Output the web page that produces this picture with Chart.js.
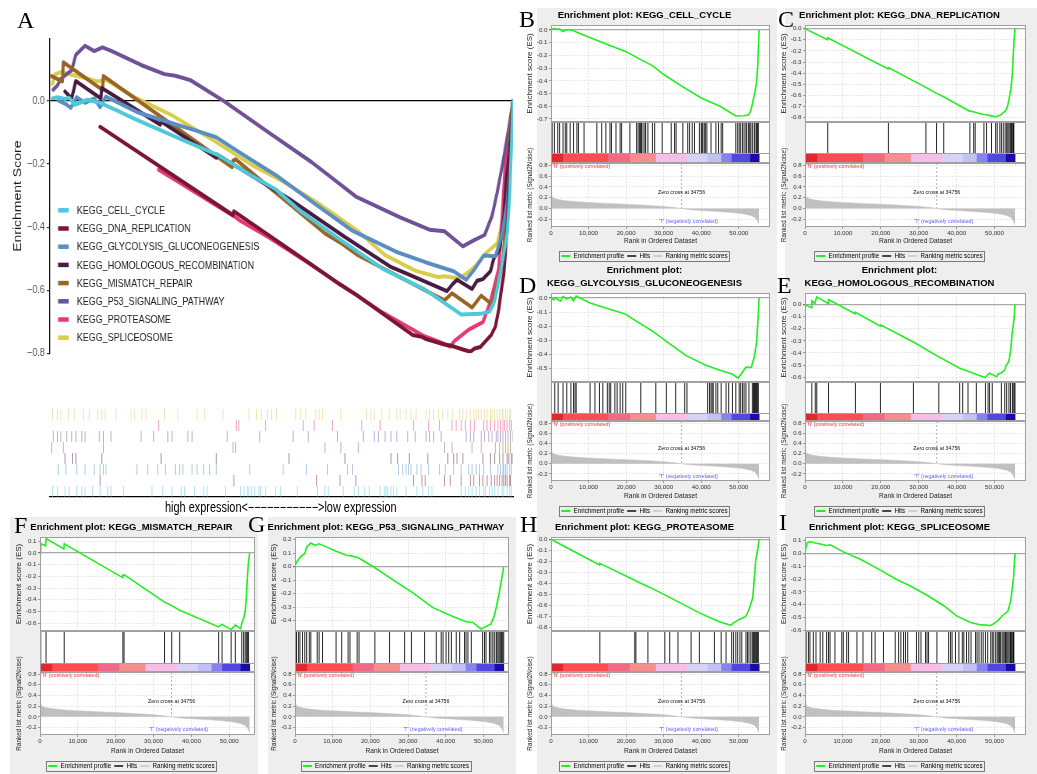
<!DOCTYPE html>
<html>
<head>
<meta charset="utf-8">
<title>GSEA KEGG enrichment</title>
<script src="https://cdn.jsdelivr.net/npm/chart.js"></script>
<style>
  html, body { margin: 0; padding: 0; background: #fff; }
  body { position: relative; width: 1037px; height: 774px; overflow: hidden; font-family: "Liberation Sans", Arial, sans-serif; }
  canvas { position: absolute; }
  .bg { position: absolute; background: #eeeeee; }
  .tag { position: absolute; font: 24px/1 "Liberation Serif", "Times New Roman", serif; color: #000; z-index: 5; }
  .note { position: absolute; font: 14px/1 "Liberation Sans", Arial, sans-serif; white-space: nowrap; transform: scaleX(0.78); transform-origin: 0 50%; color: #000; }
</style>
</head>
<body>
<script>
// ---------------- data ----------------
const N_GENES = 55400;
const ZERO_CROSS = 34756;
const RANK_TICKS = [0, 10000, 20000, 30000, 40000, 50000];

const PATHWAYS = ['KEGG_CELL_CYCLE', 'KEGG_DNA_REPLICATION', 'KEGG_GLYCOLYSIS_GLUCONEOGENESIS',
  'KEGG_HOMOLOGOUS_RECOMBINATION', 'KEGG_MISMATCH_REPAIR', 'KEGG_P53_SIGNALING_PATHWAY',
  'KEGG_PROTEASOME', 'KEGG_SPLICEOSOME'];

// running enrichment score: [rank, ES]
const ES_CELL_CYCLE = [[0,0],[300,0.008],[900,0.012],[1800,0.006],[2300,0.01],[3000,-0.012],[3800,-0.004],[4500,0.004],[6000,-0.006],[8000,-0.03],[10000,-0.055],[13000,-0.09],[16000,-0.125],[20000,-0.17],[24000,-0.235],[27000,-0.28],[30000,-0.35],[35000,-0.445],[40000,-0.535],[45000,-0.6],[49200,-0.677],[51500,-0.675],[52600,-0.668],[53200,-0.635],[53700,-0.57],[54200,-0.5],[54700,-0.42],[55000,-0.3],[55200,-0.15],[55400,0]];
const ES_DNA_REPLICATION = [[0,0],[5900,-0.1],[6000,-0.082],[21900,-0.362],[22000,-0.35],[31100,-0.515],[34600,-0.58],[36700,-0.615],[43400,-0.742],[44500,-0.748],[45000,-0.755],[47200,-0.772],[47900,-0.775],[49300,-0.787],[50300,-0.795],[50800,-0.785],[51500,-0.78],[52000,-0.765],[52800,-0.742],[53300,-0.715],[53700,-0.66],[54000,-0.6],[54300,-0.55],[54700,-0.4],[55000,-0.2],[55200,-0.08],[55400,0]];
const ES_GLYCOLYSIS = [[0,0],[700,-0.012],[1000,0.002],[1900,-0.01],[2500,-0.022],[3200,0.012],[4200,-0.006],[5300,0.008],[6000,-0.02],[6700,0.014],[10400,-0.035],[13100,-0.058],[15000,-0.074],[17600,-0.095],[19900,-0.115],[22800,-0.165],[27300,-0.24],[31700,-0.326],[36100,-0.41],[41400,-0.478],[45000,-0.512],[48300,-0.54],[49800,-0.567],[50700,-0.537],[51900,-0.49],[53300,-0.492],[54100,-0.42],[54700,-0.32],[55000,-0.2],[55200,-0.1],[55400,0]];
const ES_HOMOLOGOUS = [[0,0],[1700,-0.026],[1800,0.03],[2600,0.008],[3100,0.063],[6100,0.008],[6200,0.041],[13200,-0.075],[13300,-0.065],[19900,-0.18],[20000,-0.17],[28600,-0.31],[35200,-0.43],[40700,-0.525],[42900,-0.55],[45100,-0.575],[47500,-0.603],[48200,-0.58],[48700,-0.567],[50500,-0.596],[51100,-0.57],[51800,-0.565],[52700,-0.54],[53100,-0.5],[53800,-0.47],[54300,-0.37],[54600,-0.25],[54900,-0.18],[55200,-0.1],[55400,0]];
const ES_MISMATCH = [[0,0],[200,0.079],[1500,0.062],[1600,0.123],[6300,0.035],[6400,0.079],[21800,-0.21],[21900,-0.19],[22200,-0.185],[32900,-0.42],[34800,-0.45],[36900,-0.49],[47200,-0.632],[48100,-0.61],[50500,-0.655],[51600,-0.617],[53000,-0.648],[53300,-0.6],[53800,-0.56],[54200,-0.5],[54500,-0.39],[54800,-0.2],[55100,-0.067],[55400,0]];
const ES_P53 = [[0,0],[400,0.036],[900,0.049],[1300,0.07],[2000,0.085],[2600,0.097],[3100,0.146],[4200,0.175],[5300,0.158],[6300,0.17],[7400,0.158],[10900,0.114],[13700,0.085],[15000,0.08],[16800,0.066],[20800,0],[26000,-0.097],[31300,-0.194],[36600,-0.303],[41900,-0.369],[45400,-0.408],[47200,-0.413],[49400,-0.461],[50700,-0.442],[52000,-0.425],[52900,-0.364],[53500,-0.291],[54200,-0.194],[54900,-0.085],[55400,0]];
const ES_PROTEASOME = [[0,0],[12900,-0.232],[13000,-0.218],[22300,-0.37],[22600,-0.377],[26200,-0.433],[30700,-0.51],[39500,-0.666],[44800,-0.746],[46600,-0.764],[47900,-0.779],[48400,-0.761],[50100,-0.725],[51800,-0.701],[52700,-0.636],[53700,-0.531],[54100,-0.367],[54500,-0.188],[55000,-0.1],[55400,0]];
const ES_SPLICEOSOME = [[0,0],[300,0.054],[600,0.084],[1300,0.091],[4000,0.074],[5700,0.062],[6700,0.067],[10100,0.012],[14500,-0.044],[19900,-0.13],[24300,-0.205],[27800,-0.254],[32300,-0.328],[36700,-0.41],[40100,-0.489],[43700,-0.538],[46400,-0.558],[47200,-0.556],[48900,-0.563],[49900,-0.546],[50800,-0.526],[52100,-0.484],[53500,-0.452],[54300,-0.365],[55000,-0.193],[55400,0]];

// positions of pathway genes in the ranked list
const HITS_CELL_CYCLE = [300,900,1800,2300,3200,3800,4200,5100,6000,6900,7300,8800,12200,13500,14600,15700,16100,17300,18400,18800,21000,22800,23200,23600,23800,24100,24500,25000,25200,25800,27000,27600,29600,32000,32900,33300,35100,36400,36900,37600,38200,39500,40000,40200,40400,40800,41100,41500,42600,43900,44600,45300,45700,49200,49700,50100,50500,51000,51400,51900,52100,52600,52900,53200,53600,54100,54300,54700,55000,55200];
const HITS_DNA_REPLICATION = [6000,22000,31900,34700,36600,43500,44500,44900,47200,47900,49200,50300,50700,51400,51800,52300,52800,53200,53500,53800,54100,54300,54500,54700,55000,55100];
const HITS_GLYCOLYSIS = [1000,1900,3200,4200,5300,6000,6400,6700,10400,11700,12900,13800,15000,15500,15900,17000,17600,18400,19100,19900,23900,27900,30700,33200,35600,36200,41700,42200,42600,42900,43200,43900,44400,45300,46600,47300,48300,49200,50100,50500,51000,51400,51900,52700,53600,53900,54200,54300,54500,54700,55000,55200];
const HITS_HOMOLOGOUS = [1800,2700,3100,6200,13300,19900,28600,35300,40800,41600,43000,45200,47600,48300,48700,49400,51800,52700,53200,53800,54200,54700,54900,55200,55400];
const HITS_MISMATCH = [200,1600,6400,21900,22200,32900,34800,36900,47200,48100,50500,51600,53300,53800,54200,54500,54800,55100];
const HITS_P53 = [400,900,1300,2000,2600,3100,3800,4200,5900,6400,7300,10900,12400,14100,14600,16500,17000,21200,25100,29100,30900,34400,37500,38800,39300,40100,40800,41500,42800,43700,45000,45400,45900,46800,49800,50300,50700,51600,52000,52500,52900,53400,53600,53900,54200,54500,54800,55100,55400];
const HITS_PROTEASOME = [13000,22300,22600,25800,30300,31600,33800,37300,39500,43500,45300,46600,48100,48600,49200,49700,50300,50800,51900,52300,52700,53200,53600,53900,54200,54400,54700,55000,55200];
const HITS_SPLICEOSOME = [300,900,1300,2200,2900,4000,4700,5700,6200,6600,7900,9700,10100,11000,11500,13700,15300,17600,18500,20700,23800,24700,25300,26000,26500,27100,29400,30000,30600,31800,32200,32600,34800,37900,38400,38800,39700,40600,41500,41900,42600,43200,43800,45000,45400,45900,46500,47000,47600,48200,49000,49400,49800,50300,50700,51000,51300,51600,52000,52300,52700,52900,53200,53500,53800,54100,54200,54500,54700,55000,55100];

// ranked list metric (Signal2Noise)
const RANK_X = [0,200,800,2000,4000,7000,10000,15000,20000,25000,30000,33000,34756,37000,40000,44000,48000,51000,53000,54200,54900,55400];
const RANK_Y = [0.26,0.22,0.19,0.165,0.145,0.125,0.112,0.095,0.08,0.062,0.04,0.018,0,-0.02,-0.035,-0.052,-0.072,-0.095,-0.125,-0.16,-0.22,-0.3];

// colour bar breaks along the ranked list
const CB_EDGES = [0,3300,15300,21000,27900,36200,41700,45300,48100,53000,55400];

const ES_BY_PATH = [ES_CELL_CYCLE, ES_DNA_REPLICATION, ES_GLYCOLYSIS, ES_HOMOLOGOUS, ES_MISMATCH, ES_P53, ES_PROTEASOME, ES_SPLICEOSOME];
const HITS_BY_PATH = [HITS_CELL_CYCLE, HITS_DNA_REPLICATION, HITS_GLYCOLYSIS, HITS_HOMOLOGOUS, HITS_MISMATCH, HITS_P53, HITS_PROTEASOME, HITS_SPLICEOSOME];

// ---------------- styles / layout ----------------
const PATH_COLORS = ['#4fc9da', '#7b1631', '#5a8ec3', '#4a1b40', '#9a6426', '#6f5197', '#e53b74', '#d8cd4c'];
const CB_COLORS = ['#e3282d', '#fb4e50', '#ee6b83', '#f98c8c', '#f7bee7', '#d5d3f7', '#c2c0f5', '#8583f1', '#5147e1', '#1b0ba6'];
const ES_GREEN = '#22ee22';
const GRID = '#d6d6d6';
const FRAME = '#a0a0a0';
const METRIC_GRAY = '#c0c0c0';

const AXIS_W = 32, RIGHT_PAD = 6, RANK_OVER = 30, ES_UNDER = 5;
const TITLE_SIZE = 9.5, TITLE_LH = 1.35, TITLE_GAP = 3.6;
const LEG_SIZE = 6.3, LEG_PAD = 3, LEG_H = LEG_SIZE + LEG_PAD + 10;

const COLS = {
  c1: {plotL: 40, plotR: 255, xMax: 56800},
  c2: {plotL: 295, plotR: 509, xMax: 56800},
  c3: {plotL: 551, plotR: 770, xMax: 58300},
  c4: {plotL: 805, plotR: 1026, xMax: 58300}
};
const ROWS = {
  top: {esTop: 25, esBot: 122, hitsBot: 153, cbBot: 163, rankBot: 227, legendY: 256, twoLine: false},
  mid: {esTop: 293, esBot: 382, hitsBot: 413, cbBot: 421, rankBot: 481, legendY: 511, twoLine: true},
  bot: {esTop: 537, esBot: 631, hitsBot: 663, cbBot: 672, rankBot: 735, legendY: 766, twoLine: false}
};
const PANELS = [
  {tag: 'B', path: 0, col: 'c3', row: 'top', yMin: -0.724, yMax: 0.04},
  {tag: 'C', path: 1, col: 'c4', row: 'top', yMin: -0.84, yMax: 0.033},
  {tag: 'D', path: 2, col: 'c3', row: 'mid', yMin: -0.595, yMax: 0.036},
  {tag: 'E', path: 3, col: 'c4', row: 'mid', yMin: -0.64, yMax: 0.095},
  {tag: 'F', path: 4, col: 'c1', row: 'bot', yMin: -0.667, yMax: 0.137},
  {tag: 'G', path: 5, col: 'c2', row: 'bot', yMin: -0.476, yMax: 0.22},
  {tag: 'H', path: 6, col: 'c3', row: 'bot', yMin: -0.83, yMax: 0.021},
  {tag: 'I', path: 7, col: 'c4', row: 'bot', yMin: -0.605, yMax: 0.128}
];
const TAGS = [['A', 17, 28], ['B', 519, 27], ['C', 778, 27], ['D', 519, 293], ['E', 777, 293],
  ['F', 14, 533], ['G', 248, 532], ['H', 520, 532], ['I', 779, 530]];
const PANEL_BG = [[537, 8, 240, 766], [785, 8, 252, 766], [10, 517, 248, 257], [268, 517, 248, 257]];

Chart.defaults.font.family = '"Liberation Sans", Arial, sans-serif';
Chart.defaults.animation = false;
Chart.defaults.responsive = false;
Chart.defaults.events = [];
Chart.defaults.layout.autoPadding = false;
Chart.defaults.plugins.tooltip.enabled = false;

// ---------------- helpers ----------------
function addCanvas(left, top, w, h) {
  const c = document.createElement('canvas');
  c.width = Math.round(w); c.height = Math.round(h);
  c.style.left = left + 'px'; c.style.top = top + 'px';
  document.body.appendChild(c);
  return c;
}
function addDiv(cls, left, top, w, h, text) {
  const d = document.createElement('div');
  d.className = cls;
  d.style.left = left + 'px'; d.style.top = top + 'px';
  if (w != null) d.style.width = w + 'px';
  if (h != null) d.style.height = h + 'px';
  if (text) d.textContent = text;
  document.body.appendChild(d);
  return d;
}
function noPad(s) { s.paddingTop = 0; s.paddingBottom = 0; s.paddingLeft = 0; s.paddingRight = 0; }
function rankTicks(s) { s.ticks = RANK_TICKS.map(v => ({value: v})); }
function alpha(hex, a) {
  const n = parseInt(hex.slice(1), 16);
  return 'rgba(' + (n >> 16) + ',' + ((n >> 8) & 255) + ',' + (n & 255) + ',' + a + ')';
}
const isZero = ctx => ctx.tick && Math.abs(ctx.tick.value) < 1e-9;

// white plot background + frame
const plotBox = {
  id: 'plotBox',
  beforeDraw(chart, args, opts) {
    if (!opts || !opts.fill) return;
    const {ctx, chartArea: a} = chart;
    const extra = opts.extraBottom ? chart.height - a.bottom : 0;
    ctx.save(); ctx.fillStyle = opts.fill;
    ctx.fillRect(a.left, a.top, a.width, a.height + extra);
    ctx.restore();
  },
  afterDraw(chart, args, opts) {
    if (!opts || !opts.stroke) return;
    const {ctx, chartArea: a} = chart;
    const extra = opts.extraBottom ? chart.height - a.bottom : 0;
    ctx.save(); ctx.strokeStyle = opts.stroke; ctx.lineWidth = 1;
    ctx.strokeRect(Math.round(a.left) + 0.5, Math.round(a.top) + 0.5, Math.round(a.width) - 1, Math.round(a.height + extra) - 1);
    ctx.restore();
  }
};

// red -> blue bar under the hits
const colorBar = {
  id: 'colorBar',
  afterDatasetsDraw(chart) {
    const {ctx, chartArea: a, scales: {x}} = chart;
    const top = a.bottom, h = chart.height - a.bottom;
    ctx.save();
    for (let i = 0; i < CB_COLORS.length; i++) {
      const x0 = x.getPixelForValue(CB_EDGES[i]), x1 = x.getPixelForValue(CB_EDGES[i + 1]);
      ctx.fillStyle = CB_COLORS[i];
      ctx.fillRect(x0, top, x1 - x0 + 0.4, h);
    }
    ctx.strokeStyle = FRAME; ctx.lineWidth = 1;
    ctx.beginPath(); ctx.moveTo(a.left, Math.round(top) + 0.5); ctx.lineTo(a.right, Math.round(top) + 0.5); ctx.stroke();
    ctx.restore();
  }
};

// texts + zero cross line of the ranked list plot
const rankNotes = {
  id: 'rankNotes',
  afterDatasetsDraw(chart) {
    const {ctx, chartArea: a, scales: {x, y}} = chart;
    const zx = x.getPixelForValue(ZERO_CROSS);
    ctx.save();
    ctx.strokeStyle = '#9a9a9a'; ctx.lineWidth = 0.8; ctx.setLineDash([2, 2]);
    ctx.beginPath(); ctx.moveTo(zx, a.top); ctx.lineTo(zx, y.getPixelForValue(0)); ctx.stroke();
    ctx.setLineDash([]);
    ctx.font = '5.3px "Liberation Sans", Arial, sans-serif';
    ctx.textBaseline = 'top'; ctx.textAlign = 'left'; ctx.fillStyle = '#ff3a3a';
    ctx.fillText("'N' (positively correlated)", a.left + 1.5, a.top + 0.5);
    ctx.textBaseline = 'middle'; ctx.textAlign = 'center'; ctx.fillStyle = '#111';
    ctx.fillText('Zero cross at ' + ZERO_CROSS, zx, y.getPixelForValue(0.29));
    ctx.fillStyle = '#5a5aff';
    ctx.fillText("'T' (negatively correlated)", x.getPixelForValue(36600), y.getPixelForValue(-0.245));
    ctx.restore();
  }
};

// box round the GSEA legend
const legendBox = {
  id: 'legendBox',
  afterDraw(chart) {
    const hb = chart.legend && chart.legend.legendHitBoxes;
    if (!hb || !hb.length) return;
    const l = Math.min(...hb.map(b => b.left)) - 2;
    const r = Math.max(...hb.map(b => b.left + b.width)) + 2;
    const t = hb[0].top - 2, b = hb[0].top + hb[0].height + 2;
    const ctx = chart.ctx;
    ctx.save(); ctx.strokeStyle = '#7a7a7a'; ctx.lineWidth = 1;
    ctx.strokeRect(Math.round(l) + 0.5, Math.round(t) + 0.5, Math.round(r - l), Math.round(b - t));
    ctx.restore();
  }
};

// legend inside panel A
const aLegend = {
  id: 'aLegend',
  afterDraw(chart, args, o) {
    const ctx = chart.ctx;
    ctx.save();
    ctx.font = o.size + 'px "Liberation Sans", Arial, sans-serif';
    ctx.textBaseline = 'middle'; ctx.textAlign = 'left';
    chart.data.datasets.forEach((ds, i) => {
      const y = o.y0 + i * o.dy;
      ctx.fillStyle = ds.borderColor;
      ctx.fillRect(o.keyX, y - o.keyH / 2, o.keyW, o.keyH);
      ctx.fillStyle = '#1a1a1a';
      ctx.fillText(ds.label, o.textX, y + 0.5);
    });
    ctx.restore();
  }
};

// ---------------- page ----------------
PANEL_BG.forEach(([x, y, w, h]) => addDiv('bg', x, y, w, h));

// panel A: all running scores, drawn from the first hit on
(function () {
  const W = 667, realW = 520, H = 330, top = 30;
  const cv = addCanvas(0, top, W, H);
  cv.style.width = realW + 'px'; cv.style.height = H + 'px';
  new Chart(cv, {
    type: 'line',
    data: {
      datasets: PATHWAYS.map((name, i) => ({
        label: name,
        data: ES_BY_PATH[i].filter(p => p[0] >= HITS_BY_PATH[i][0]).map(([x, y]) => ({x, y})),
        borderColor: PATH_COLORS[i], borderWidth: 4, pointRadius: 0, tension: 0,
        borderJoinStyle: 'round', borderCapStyle: 'round'
      }))
    },
    options: {
      layout: {padding: {top: 9.1, right: 9, bottom: 6.7, left: 0}},
      plugins: {
        legend: {display: false},
        aLegend: {keyX: 74.5, keyW: 13.5, keyH: 4.5, textX: 98.5, y0: 180.3, dy: 18.2, size: 11.5}
      },
      scales: {
        x: {type: 'linear', display: false, min: 0, max: N_GENES, afterFit: noPad},
        y: {
          min: -0.8, max: 0.196,
          ticks: {stepSize: 0.2, includeBounds: false, autoSkip: false, font: {size: 11.5}, color: '#4d4d4d', padding: 2.5,
            callback: v => (v < -1e-9 ? '\u2212' : '') + Math.abs(v).toFixed(1)},
          grid: {color: ctx => isZero(ctx) ? '#000' : 'transparent', lineWidth: 1.2, tickLength: 4, tickColor: '#333'},
          border: {display: true, color: '#000', width: 1.3},
          title: {display: true, text: 'Enrichment Score', font: {size: 14}, color: '#1a1a1a', padding: {top: 14.7, bottom: 0}},
          afterFit: s => { s.width = 64; noPad(s); }
        }
      }
    },
    plugins: [aLegend]
  });

  // hit rows
  const hv = addCanvas(0, 400, 520, 100);
  new Chart(hv, {
    type: 'scatter',
    data: {
      datasets: PATHWAYS.map((name, i) => ({
        label: name,
        data: HITS_BY_PATH[i].map(h => ({x: h, y: i + 0.5})),
        pointStyle: 'line', pointRotation: 90, pointRadius: 5.5,
        pointBorderColor: alpha(PATH_COLORS[i], 0.45), pointBorderWidth: 1,
        pointBackgroundColor: 'rgba(0,0,0,0)'
      }))
    },
    options: {
      layout: {padding: {top: 9, right: 7, bottom: 3, left: 50}},
      plugins: {legend: {display: false}},
      scales: {
        x: {type: 'linear', min: 0, max: N_GENES, ticks: {display: false}, grid: {display: false},
          border: {display: true, color: '#000', width: 1.3}, afterFit: s => { s.height = 0; noPad(s); }},
        y: {display: false, min: 0, max: 8, afterFit: noPad}
      }
    }
  });

  addDiv('note', 165, 500, null, null, 'high expression<\u2212\u2212\u2212\u2212\u2212\u2212\u2212\u2212\u2212\u2212\u2212>low expression');
})();

// panels B - I: classic GSEA enrichment plots
function drawGsea(p) {
  const c = COLS[p.col], r = ROWS[p.row];
  const es = ES_BY_PATH[p.path], hits = HITS_BY_PATH[p.path], name = PATHWAYS[p.path];
  const left = c.plotL - AXIS_W, width = c.plotR + RIGHT_PAD - left;
  const xBase = {type: 'linear', min: 0, max: c.xMax, afterBuildTicks: rankTicks};

  // 1. running enrichment score
  const lines = r.twoLine ? ['Enrichment plot:', name] : ['Enrichment plot: ' + name];
  const titleH = lines.length * TITLE_SIZE * TITLE_LH + TITLE_GAP;
  const esTop = Math.floor(r.esTop - titleH);
  new Chart(addCanvas(left, esTop, width, r.esBot + ES_UNDER - esTop), {
    type: 'line',
    data: {datasets: [{data: es.map(([x, y]) => ({x, y})), borderColor: ES_GREEN, borderWidth: 1.6, pointRadius: 0, tension: 0}]},
    options: {
      layout: {padding: {top: r.esTop - esTop - titleH, right: RIGHT_PAD, bottom: ES_UNDER, left: 0}},
      plugins: {
        legend: {display: false},
        title: {display: true, text: lines, color: '#000', font: {size: TITLE_SIZE, weight: 'bold', lineHeight: TITLE_LH}, padding: {top: 0, bottom: TITLE_GAP}},
        plotBox: {fill: '#fff', stroke: FRAME}
      },
      scales: {
        x: Object.assign({}, xBase, {
          ticks: {display: false},
          grid: {color: GRID, lineWidth: 0.7, drawTicks: false},
          border: {display: false, dash: [1.5, 1.5]},
          afterFit: s => { s.height = 0; noPad(s); }
        }),
        y: {
          min: p.yMin, max: p.yMax,
          ticks: {stepSize: 0.1, includeBounds: false, autoSkip: false, font: {size: 6.2}, color: '#333', padding: 1.5, callback: v => v.toFixed(1)},
          grid: {color: ctx => isZero(ctx) ? '#a8a8a8' : GRID, lineWidth: ctx => isZero(ctx) ? 1.3 : 0.7, tickLength: 2, tickColor: '#777'},
          border: {display: false, dash: ctx => isZero(ctx) ? [] : [1.5, 1.5]},
          title: {display: true, text: 'Enrichment score (ES)', font: {size: 8}, color: '#222', padding: {top: 6.2, bottom: 0}},
          afterFit: s => { s.width = AXIS_W; noPad(s); }
        }
      }
    },
    plugins: [plotBox]
  });

  // 2. hits + colour bar
  new Chart(addCanvas(c.plotL, r.esBot, c.plotR - c.plotL, r.cbBot - r.esBot), {
    type: 'scatter',
    data: {datasets: [{data: hits.map(h => ({x: h, y: 0.5})), pointStyle: 'line', pointRotation: 90,
      pointRadius: (r.hitsBot - r.esBot) / 2, pointBorderColor: 'rgba(0,0,0,0.85)', pointBorderWidth: 1,
      pointBackgroundColor: 'rgba(0,0,0,0)'}]},
    options: {
      layout: {padding: {top: 0, right: 0, bottom: r.cbBot - r.hitsBot, left: 0}},
      plugins: {legend: {display: false}, plotBox: {fill: '#fff', stroke: FRAME, extraBottom: true}},
      scales: {
        x: Object.assign({}, xBase, {display: false, afterFit: noPad}),
        y: {display: false, min: 0, max: 1, afterFit: noPad}
      }
    },
    plugins: [plotBox, colorBar]
  });

  // 3. ranked list metric
  const rankTop = r.cbBot - RANK_OVER;
  const legendTop = r.legendY - LEG_PAD - LEG_SIZE / 2;
  const rankH = Math.ceil(legendTop + LEG_H - rankTop);
  new Chart(addCanvas(left, rankTop, width, rankH), {
    type: 'line',
    data: {datasets: [{data: RANK_X.map((x, i) => ({x, y: RANK_Y[i]})), fill: 'origin', backgroundColor: METRIC_GRAY,
      borderColor: METRIC_GRAY, borderWidth: 0.5, pointRadius: 0, tension: 0}]},
    options: {
      layout: {padding: {top: RANK_OVER, right: RIGHT_PAD, left: 0, bottom: rankH - (legendTop + LEG_H - rankTop)}},
      plugins: {
        legend: {
          display: true, position: 'bottom', onClick: null,
          labels: {
            font: {size: LEG_SIZE}, color: '#000', boxWidth: 9, boxHeight: 2, padding: LEG_PAD,
            generateLabels: () => [
              {text: 'Enrichment profile', fillStyle: ES_GREEN, strokeStyle: ES_GREEN, lineWidth: 0, hidden: false, datasetIndex: 0},
              {text: 'Hits', fillStyle: '#444', strokeStyle: '#444', lineWidth: 0, hidden: false, datasetIndex: 0},
              {text: 'Ranking metric scores', fillStyle: '#d0d0d0', strokeStyle: '#d0d0d0', lineWidth: 0, hidden: false, datasetIndex: 0}
            ]
          }
        },
        plotBox: {fill: '#fff', stroke: FRAME}
      },
      scales: {
        x: Object.assign({}, xBase, {
          ticks: {font: {size: 6.2}, color: '#333', padding: 0.5, maxRotation: 0, autoSkip: false},
          grid: {color: GRID, lineWidth: 0.7, tickLength: 2, tickColor: '#777'},
          border: {display: false, dash: [1.5, 1.5]},
          title: {display: true, text: 'Rank in Ordered Dataset', font: {size: 6.6}, color: '#222', padding: {top: 0, bottom: 4.9}},
          afterFit: s => { s.height = legendTop - r.rankBot; noPad(s); }
        }),
        y: {
          min: -0.34, max: 0.84,
          ticks: {stepSize: 0.2, includeBounds: false, autoSkip: false, font: {size: 6}, color: '#333', padding: 1.5, callback: v => v.toFixed(1)},
          grid: {color: GRID, lineWidth: 0.7, tickLength: 2, tickColor: '#777'},
          border: {display: false, dash: [1.5, 1.5]},
          title: {display: true, text: 'Ranked list metric (Signal2Noise)', font: {size: 6.4}, color: '#222', padding: {top: 7.2, bottom: 0}},
          afterFit: s => { s.width = AXIS_W; noPad(s); }
        }
      }
    },
    plugins: [plotBox, rankNotes, legendBox]
  });
}
PANELS.forEach(drawGsea);

TAGS.forEach(([t, x, base]) => addDiv('tag', x, base - 20, null, null, t));
</script>
</body>
</html>
